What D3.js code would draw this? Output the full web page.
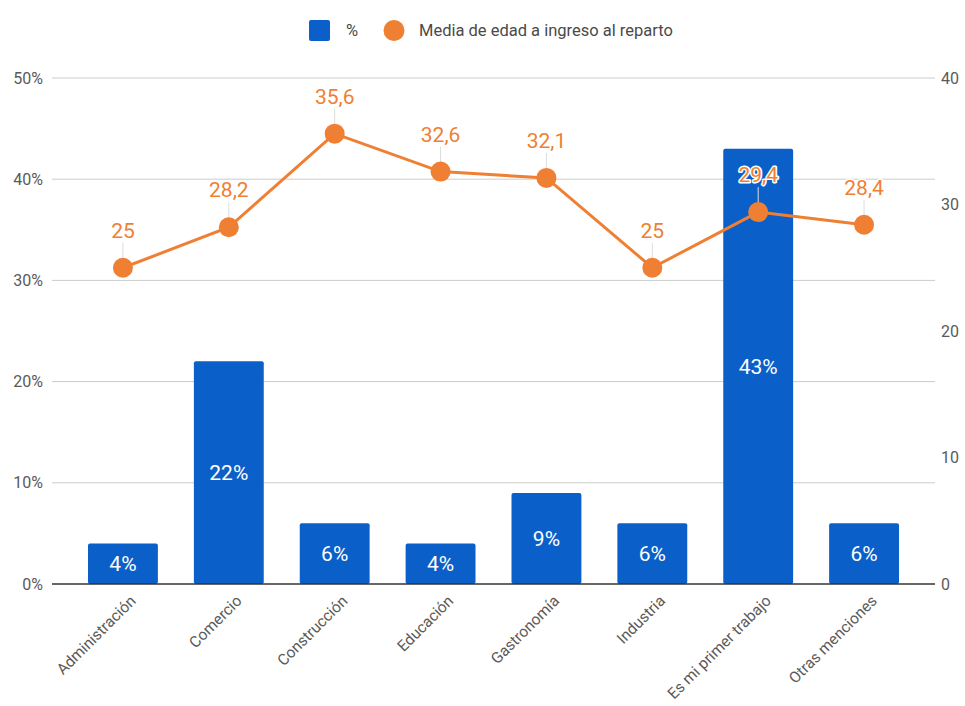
<!DOCTYPE html>
<html>
<head>
<meta charset="utf-8">
<script src="https://cdn.jsdelivr.net/npm/d3@7"></script>
<style>
  html, body { margin: 0; padding: 0; background: #fff; }
  svg { display: block; font-family: Roboto, "Noto Sans", Arial, sans-serif; }
</style>
</head>
<body>
<svg id="chart" width="965" height="706"></svg>
<script>
const categories = ["Administración", "Comercio", "Construcción", "Educación", "Gastronomía", "Industria", "Es mi primer trabajo", "Otras menciones"];
const percentValues = [4, 22, 6, 4, 9, 6, 43, 6];
const ageValues = [25, 28.2, 35.6, 32.6, 32.1, 25, 29.4, 28.4];
const leftTicks = [0, 10, 20, 30, 40, 50];
const rightTicks = [0, 10, 20, 30, 40];
const seriesNames = ["%", "Media de edad a ingreso al reparto"];

const W = 965, H = 706;
const m = { left: 52, right: 30, top: 78, bottom: 122 };
const blue = "#0b5fc8", orange = "#ef7f33";

const svg = d3.select("#chart");

const x = d3.scaleBand().domain(categories).range([m.left, W - m.right]).paddingInner(0.34).paddingOuter(0.34);
const yL = d3.scaleLinear().domain([0, 50]).range([H - m.bottom, m.top]);
const yR = d3.scaleLinear().domain([0, 40]).range([H - m.bottom, m.top]);

// gridlines
svg.append("g").selectAll("line").data(leftTicks.filter(d => d > 0)).join("line")
  .attr("x1", m.left).attr("x2", W - m.right)
  .attr("y1", d => yL(d)).attr("y2", d => yL(d))
  .attr("stroke", "#cccccc").attr("stroke-width", 1);

// left axis
const leftAxis = d3.axisLeft(yL).tickValues(leftTicks).tickSize(0).tickPadding(9).tickFormat(d => d + "%");
const gL = svg.append("g").attr("transform", `translate(${m.left},0)`).call(leftAxis);
gL.select(".domain").remove();
gL.selectAll("text").attr("font-size", 16).attr("fill", "#5a5a5a").attr("font-family", "Roboto, sans-serif");

// right axis
const rightAxis = d3.axisRight(yR).tickValues(rightTicks).tickSize(0).tickPadding(6).tickFormat(d3.format("d"));
const gR = svg.append("g").attr("transform", `translate(${W - m.right},0)`).call(rightAxis);
gR.select(".domain").remove();
gR.selectAll("text").attr("font-size", 16).attr("fill", "#5a5a5a").attr("font-family", "Roboto, sans-serif");

// bars
const data = categories.map((c, i) => ({ c, p: percentValues[i], a: ageValues[i] }));
svg.append("g").selectAll("rect").data(data).join("rect")
  .attr("x", d => x(d.c)).attr("width", x.bandwidth())
  .attr("y", d => yL(d.p)).attr("height", d => yL(0) - yL(d.p))
  .attr("rx", 2).attr("fill", blue);

// baseline
svg.append("line").attr("x1", m.left).attr("x2", W - m.right)
  .attr("y1", yL(0)).attr("y2", yL(0)).attr("stroke", "#333").attr("stroke-width", 1.3);

// bar labels
svg.append("g").selectAll("text").data(data).join("text")
  .attr("x", d => x(d.c) + x.bandwidth() / 2)
  .attr("y", d => (yL(d.p) + yL(0)) / 2)
  .attr("dy", "0.36em")
  .attr("text-anchor", "middle").attr("font-size", 21).attr("fill", "#fff")
  .text(d => d.p + "%");

// x axis labels
const xAxis = d3.axisBottom(x).tickSize(0).tickPadding(0);
const gX = svg.append("g").attr("transform", `translate(0,${yL(0)})`).call(xAxis);
gX.select(".domain").remove();
gX.selectAll("text")
  .attr("font-size", 15.5).attr("fill", "#5a5a5a").attr("font-family", "Roboto, sans-serif")
  .attr("text-anchor", "end")
  .attr("transform", "translate(10,14) rotate(-45)")
  .attr("dy", "0.35em").attr("y", 0);

// line
const cx = d => x(d.c) + x.bandwidth() / 2;
svg.append("path").datum(data)
  .attr("fill", "none").attr("stroke", orange).attr("stroke-width", 3)
  .attr("d", d3.line().x(cx).y(d => yR(d.a)));

// leader lines
svg.append("g").selectAll("line").data(data).join("line")
  .attr("x1", cx).attr("x2", cx)
  .attr("y1", d => yR(d.a) - 25).attr("y2", d => yR(d.a) - 8)
  .attr("stroke", "#dddddd").attr("stroke-width", 1);

svg.append("g").selectAll("circle").data(data).join("circle")
  .attr("cx", cx).attr("cy", d => yR(d.a)).attr("r", 10).attr("fill", orange);

// line labels
const fmt = v => String(v).replace(".", ",");
svg.append("g").selectAll("text").data(data).join("text")
  .attr("x", cx).attr("y", d => yR(d.a) - 30)
  .attr("text-anchor", "middle").attr("font-size", 21).attr("fill", orange)
  .attr("stroke", "#fff").attr("stroke-width", 3).attr("paint-order", "stroke")
  .attr("stroke-linejoin", "round")
  .text(d => fmt(d.a));

// legend
const lg = svg.append("g");
lg.append("rect").attr("x", 309).attr("y", 20).attr("width", 21).attr("height", 21).attr("rx", 2).attr("fill", blue);
lg.append("text").attr("x", 346).attr("y", 30.5).attr("dy", "0.35em").attr("font-size", 16.5).attr("fill", "#4a4a4a").text(seriesNames[0]);
lg.append("circle").attr("cx", 394).attr("cy", 30.5).attr("r", 10.5).attr("fill", orange);
lg.append("text").attr("x", 419).attr("y", 30.5).attr("dy", "0.35em").attr("font-size", 16.5).attr("fill", "#4a4a4a").text(seriesNames[1]);
</script>
</body>
</html>
